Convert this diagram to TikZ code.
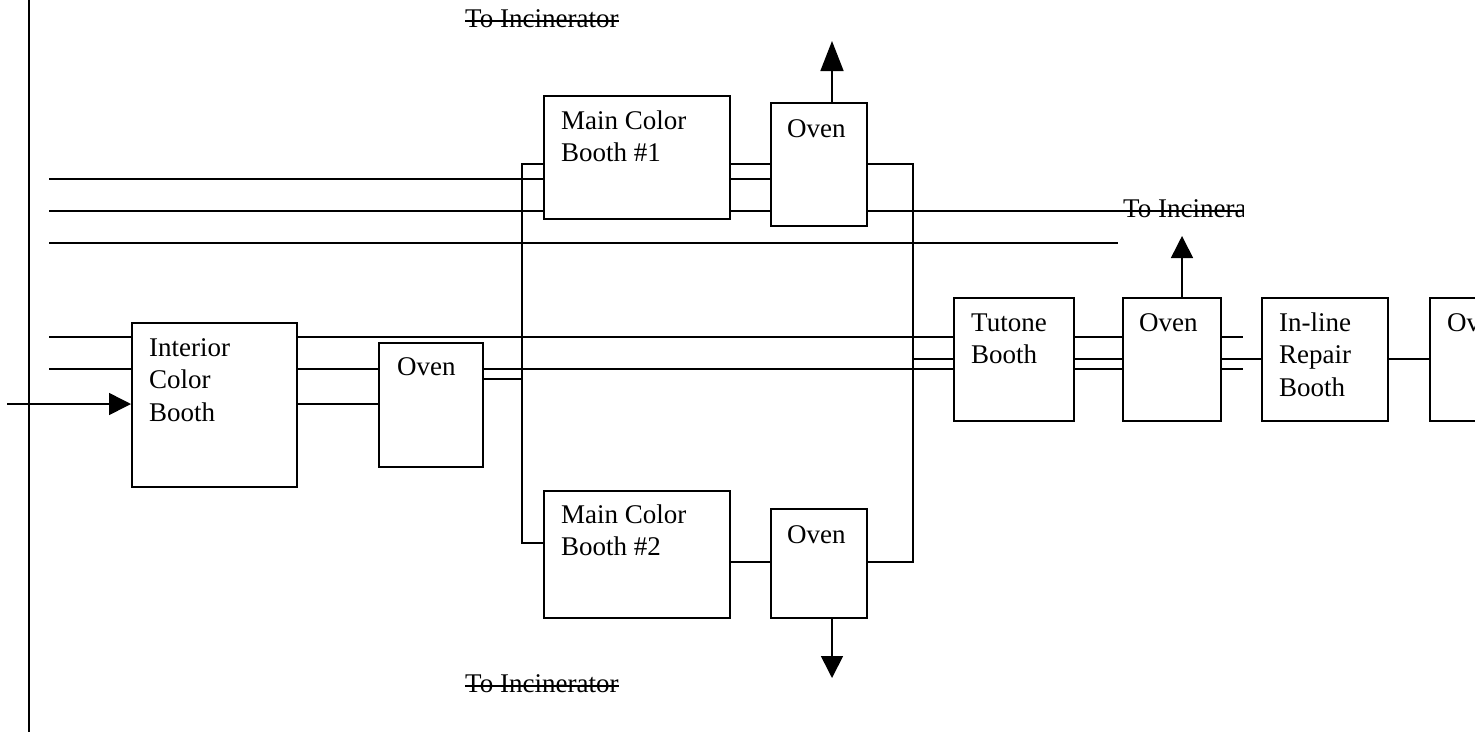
\documentclass[tikz,border=0pt]{standalone}
\usepackage{fontspec}
\setmainfont{Liberation Serif}
\usetikzlibrary{arrows.meta,calc}
\begin{document}
\begin{tikzpicture}[x=1pt,y=-1pt,
 box/.style={draw, line width=1.6pt, inner sep=0pt, anchor=north west},
 lbl/.style={anchor=base west, inner sep=0pt, font=\fontsize{27}{32.5}\selectfont},
 thk/.style={line width=2pt},
 thn/.style={line width=1.1pt},
 arr/.style={line width=1.6pt, -{Triangle[length=22pt,width=22pt]}},
 arrl/.style={line width=1.6pt, -{Triangle[length=30pt,width=23pt]}},
 strike/.style={line width=1.3pt},
]
\path[use as bounding box] (0,0) rectangle (1475,732);
\clip (0,0) rectangle (1475,732);

% rails (y levels)
\coordinate (ra) at (0,164);
\coordinate (rb) at (0,179);
\coordinate (rc) at (0,211);
\coordinate (rd) at (0,243);
\coordinate (re) at (0,337);
\coordinate (rf) at (0,359);
\coordinate (rg) at (0,369);
\coordinate (rh) at (0,379);
\coordinate (ri) at (0,404);
\coordinate (rj) at (0,543);
\coordinate (rk) at (0,562);
% columns
\coordinate (cx1) at (522,0);
\coordinate (cx2) at (913,0);

% boxes
\node[box, minimum width=165pt, minimum height=164pt] (icb) at (131,322) {};
\node[box, minimum width=104pt, minimum height=124pt] (ov1) at (378,342) {};
\node[box, minimum width=186pt, minimum height=123pt] (mcb1) at (543,95) {};
\node[box, minimum width=96pt, minimum height=123pt] (ov2) at (770,102) {};
\node[box, minimum width=186pt, minimum height=127pt] (mcb2) at (543,490) {};
\node[box, minimum width=96pt, minimum height=109pt] (ov3) at (770,508) {};
\node[box, minimum width=120pt, minimum height=123pt] (tut) at (953,297) {};
\node[box, minimum width=98pt, minimum height=123pt] (ov4) at (1122,297) {};
\node[box, minimum width=126pt, minimum height=123pt] (irb) at (1261,297) {};
\node[box, minimum width=98pt, minimum height=123pt] (ov5) at (1429,297) {};

% labels
\node[lbl] (icbt) at ($(icb.north west)+(18,34)$) {\parbox[t]{150pt}{Interior\\Color\\Booth}};
\node[lbl] (ov1t) at ($(ov1.north west)+(19,33)$) {Oven};
\node[lbl] (mcb1t) at ($(mcb1.north west)+(18,34)$) {\parbox[t]{170pt}{Main Color\\Booth \#1}};
\node[lbl] (ov2t) at ($(ov2.north west)+(17,35)$) {Oven};
\node[lbl] (mcb2t) at ($(mcb2.north west)+(18,33)$) {\parbox[t]{170pt}{Main Color\\Booth \#2}};
\node[lbl] (ov3t) at ($(ov3.north west)+(17,35)$) {Oven};
\node[lbl] (tutt) at ($(tut.north west)+(18,34)$) {\parbox[t]{100pt}{Tutone\\Booth}};
\node[lbl] (ov4t) at ($(ov4.north west)+(17,34)$) {Oven};
\node[lbl] (irbt) at ($(irb.north west)+(18,34)$) {\parbox[t]{110pt}{In-line\\Repair\\Booth}};
\node[lbl] (ov5t) at ($(ov5.north west)+(18,34)$) {Oven};

% incinerator labels
\node[lbl] (inc1) at (465,27) {To Incinerator};
\draw[strike] ([yshift=6pt]inc1.base west) -- ([yshift=6pt]inc1.base east);
\node[lbl] (inc3) at (465,692) {To Incinerator};
\draw[strike] ([yshift=6pt]inc3.base west) -- ([yshift=6pt]inc3.base east);
\begin{scope}
\clip (1100,180) rectangle (1243,240);
\node[lbl] (inc2) at (1123,217) {To Incinerator};
\draw[strike] ([yshift=6pt]inc2.base west) -- ([yshift=6pt]inc2.base east);
\end{scope}

% left vertical line
\coordinate (vtop) at (29,0);
\coordinate (vbot) at (29,732);
\draw[thk] (vtop) -- (vbot);

% free start points on the left
\coordinate (s179) at (49,179);
\coordinate (s211) at (49,211);
\coordinate (s243) at (49,243);
\coordinate (s337) at (49,337);
\coordinate (s369) at (49,369);
\coordinate (s404) at (7,404);
\coordinate (e243) at (1118,243);
\coordinate (e337) at (1243,337);
\coordinate (e369) at (1243,369);

\draw[thk] (s179) -- (mcb1.west |- rb);
\draw[thk] (s211) -- (mcb1.west |- rc);
\draw[thk] (s243) -- (e243);
\draw[thk] (s337) -- (icb.west |- re);
\draw[thk] (s369) -- (icb.west |- rg);
\draw[arr] (s404) -- (icb.west |- ri);

% interior booth outputs
\draw[thk] (icb.east |- re) -- (tut.west |- re);
\draw[thk] (icb.east |- rg) -- (ov1.west |- rg);
\draw[thk] (icb.east |- ri) -- (ov1.west |- ri);
% oven 1 outputs
\draw[thk] (ov1.east |- rg) -- (tut.west |- rg);
\draw[thn] (ov1.east |- rh) -- (cx1 |- rh);
\draw[thn] (mcb1.west |- ra) -- (cx1 |- ra) -- (cx1 |- rj) -- (mcb2.west |- rj);

% main booth 1 -> oven 2
\draw[thn] (mcb1.east |- ra) -- (ov2.west |- ra);
\draw[thk] (mcb1.east |- rb) -- (ov2.west |- rb);
\draw[thk] (mcb1.east |- rc) -- (ov2.west |- rc);
% oven 2 outputs
\draw[thn] (ov2.east |- ra) -- (cx2 |- ra) -- (cx2 |- rk) -- (ov3.east |- rk);
\draw[thk] (ov2.east |- rc) -- (inc2.base west |- rc);
% main booth 2 -> oven 3
\draw[thn] (mcb2.east |- rk) -- (ov3.west |- rk);
% merge to tutone
\draw[thn] (cx2 |- rf) -- (tut.west |- rf);
% tutone -> oven 4
\draw[thk] (tut.east |- re) -- (ov4.west |- re);
\draw[thn] (tut.east |- rf) -- (ov4.west |- rf);
\draw[thk] (tut.east |- rg) -- (ov4.west |- rg);
% oven 4 outputs
\draw[thk] (ov4.east |- re) -- (e337);
\draw[thn] (ov4.east |- rf) -- (irb.west |- rf);
\draw[thk] (ov4.east |- rg) -- (e369);
% repair -> oven 5
\draw[thn] (irb.east |- rf) -- (ov5.west |- rf);

% exhaust arrows
\coordinate (up2) at (832,41);
\coordinate (dn3) at (832,678);
\coordinate (up4) at (1182,236);
\draw[arrl] ($(ov2.north west)+(62,0)$) -- (up2);
\draw[arr] ($(ov3.south west)+(62,0)$) -- (dn3);
\draw[arr] ($(ov4.north west)+(60,0)$) -- (up4);
\end{tikzpicture}
\end{document}
